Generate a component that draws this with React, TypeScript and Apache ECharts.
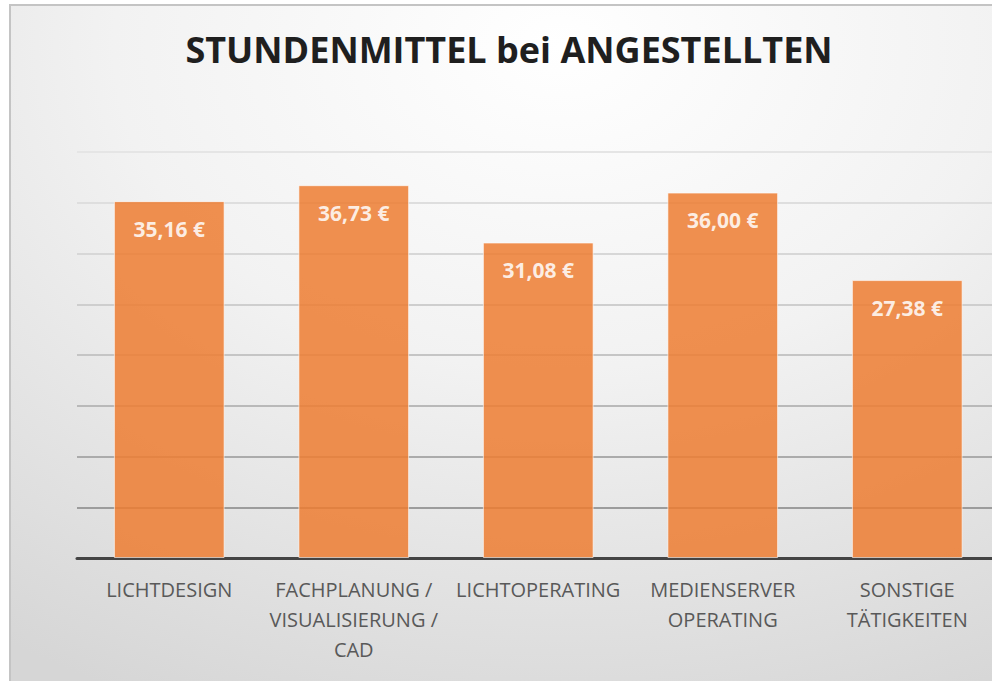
import React, { useEffect, useRef } from "react";
import * as echarts from "echarts";

const titleText = "STUNDENMITTEL bei ANGESTELLTEN";
const categories = [
  "LICHTDESIGN",
  "FACHPLANUNG /\nVISUALISIERUNG /\nCAD",
  "LICHTOPERATING",
  "MEDIENSERVER\nOPERATING",
  "SONSTIGE\nTÄTIGKEITEN",
];
const values = [35.16, 36.73, 31.08, 36.0, 27.38];
const gridColors = [
  "#444444",
  "#9c9c9c",
  "#ababab",
  "#b9b9b9",
  "#c5c5c5",
  "#cecece",
  "#d7d7d7",
  "#dedede",
  "#e5e5e5",
];

export default function App() {
  const ref = useRef<HTMLDivElement>(null);
  useEffect(() => {
    if (!ref.current) return;
    const chart = echarts.init(ref.current, null, { renderer: "svg" });
    chart.setOption({
      animation: false,
      graphic: [
        {
          type: "rect",
          z: -10,
          silent: true,
          shape: { x: 1, y: 1, width: 1100, height: 800 },
          style: {
            fill: {
              type: "radial",
              x: 0.5,
              y: 0.05,
              r: 0.9,
              colorStops: [
                { offset: 0, color: "#ffffff" },
                { offset: 0.45, color: "#f2f2f2" },
                { offset: 1, color: "#d6d6d6" },
              ],
            },
            stroke: "#c4c4c4",
            lineWidth: 2,
          },
        },
      ],
      title: {
        text: titleText,
        left: "center",
        top: 22,
        textStyle: {
          fontFamily: "Open Sans",
          fontWeight: "bold",
          fontSize: 36,
          color: "#1f1f1f",
        },
      },
      grid: { left: 68, right: 9.5, top: 148, bottom: 136 },
      xAxis: {
        type: "category",
        data: categories,
        axisLine: { lineStyle: { color: "#444444", width: 3 } },
        axisTick: { show: false },
        axisLabel: {
          fontFamily: "Open Sans",
          fontSize: 20,
          color: "#595959",
          lineHeight: 30,
          margin: 16,
          interval: 0,
        },
      },
      yAxis: {
        type: "value",
        min: 0,
        max: 40,
        interval: 5,
        axisLabel: { show: false },
        axisLine: { show: false },
        axisTick: { show: false },
        splitLine: { lineStyle: { color: gridColors, width: 2 } },
      },
      series: [
        {
          type: "bar",
          data: values,
          barCategoryGap: "40%",
          itemStyle: {
            color: "#ED7D31",
            opacity: 0.85,
            borderColor: "rgba(255,255,255,0.7)",
            borderWidth: 1,
          },
          label: {
            show: true,
            position: "insideTop",
            distance: 17,
            fontFamily: "Open Sans",
            fontWeight: "bold",
            fontSize: 21,
            color: "#ffffff",
            formatter: (p: any) =>
              p.value.toFixed(2).replace(".", ",") + " €",
          },
        },
      ],
    });
    return () => chart.dispose();
  }, []);
  return (
    <div
      style={{
        position: "fixed",
        left: 0,
        top: 0,
        width: 992,
        height: 681,
        overflow: "hidden",
        background: "#ffffff",
      }}
    >
      <div
        ref={ref}
        style={{ position: "absolute", left: 9, top: 4, width: 1000, height: 690 }}
      />
    </div>
  );
}
